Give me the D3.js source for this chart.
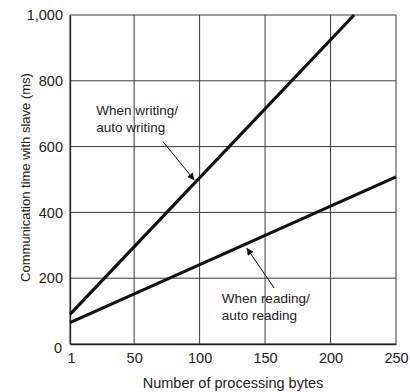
<!DOCTYPE html>
<html>
<head>
<meta charset="utf-8">
<script src="https://cdnjs.cloudflare.com/ajax/libs/d3/7.8.5/d3.min.js"></script>
<style>
  body { margin: 0; background: #fff; }
  text { font-family: "Liberation Sans", Arial, sans-serif; fill: #222; }
</style>
</head>
<body>
<div id="chart"></div>
<script>
// data
var xTicks = [1, 50, 100, 150, 200, 250];
var yTicks = [0, 200, 400, 600, 800, 1000];
var writingLine = [[1, 90], [218, 1000]];
var readingLine = [[1, 65], [250, 508]];

var margin = {top: 15, right: 14, bottom: 48, left: 70},
	width = 410 - margin.left - margin.right,
	height = 392 - margin.top - margin.bottom;

var x = d3.scaleLinear().domain([1, 250]).range([0, width]);
var y = d3.scaleLinear().domain([0, 1000]).range([height, 0]);

var svg = d3.select("#chart").append("svg")
	.attr("width", 410)
	.attr("height", 392)
  .append("g")
	.attr("transform", "translate(" + margin.left + "," + margin.top + ")");

svg.append("defs").append("marker")
	.attr("id", "arr")
	.attr("viewBox", "0 0 10 10")
	.attr("refX", 10).attr("refY", 5)
	.attr("markerWidth", 9).attr("markerHeight", 7)
	.attr("markerUnits", "userSpaceOnUse")
	.attr("orient", "auto")
  .append("path")
	.attr("d", "M0,0 L10,5 L0,10 z")
	.attr("fill", "#111");

//grid
svg.selectAll(".vgrid").data(xTicks).enter().append("line")
	.attr("x1", d => x(d)).attr("x2", d => x(d))
	.attr("y1", 0).attr("y2", height)
	.attr("stroke", "#3a3a3a").attr("stroke-width", 1);
svg.selectAll(".hgrid").data(yTicks).enter().append("line")
	.attr("x1", 0).attr("x2", width)
	.attr("y1", d => y(d)).attr("y2", d => y(d))
	.attr("stroke", "#3a3a3a").attr("stroke-width", 1);

var xAxis = d3.axisBottom(x).tickValues(xTicks).tickSize(0).tickPadding(9);
var yAxis = d3.axisLeft(y).tickValues(yTicks).tickSize(0).tickPadding(7).tickFormat(d3.format(","));

var gx = svg.append("g").attr("transform", "translate(0," + height + ")").call(xAxis);
var gy = svg.append("g").call(yAxis);
gx.select(".domain").attr("stroke", "#222").attr("stroke-width", 1.3);
gy.select(".domain").attr("stroke", "#222").attr("stroke-width", 1.3);
gx.selectAll("text").style("font-size", "14.5px").style("font-family", "Liberation Sans, Arial, sans-serif").attr("fill", "#222");
gy.selectAll("text").style("font-size", "14.5px").style("font-family", "Liberation Sans, Arial, sans-serif").attr("fill", "#222");
gx.selectAll(".tick").filter(d => d == 1).select("text").attr("dx", 1);
gy.selectAll(".tick").filter(d => d == 0).select("text").attr("x", -8).attr("dy", "0.6em");

var line = d3.line().x(d => x(d[0])).y(d => y(d[1]));
[writingLine, readingLine].forEach(function(l){
	svg.append("path").datum(l)
		.attr("d", line)
		.attr("fill", "none")
		.attr("stroke", "#111")
		.attr("stroke-width", 3.2);
});

// annotations
function note(lines, tx, ty, ax1, ay1, ax2, ay2){
	svg.append("line")
		.attr("x1", x(ax1)).attr("y1", y(ay1))
		.attr("x2", x(ax2)).attr("y2", y(ay2))
		.attr("stroke", "#111").attr("stroke-width", 1)
		.attr("marker-end", "url(#arr)");
	var t = svg.append("text").attr("x", x(tx)).attr("y", y(ty)).style("font-size", "13.5px");
	lines.forEach(function(s, i){
		t.append("tspan").attr("x", x(tx)).attr("dy", i == 0 ? 0 : "1.25em").text(s);
	});
}
note(["When writing/", "auto writing"], 21, 697, 72, 615, 96, 498);
note(["When reading/", "auto reading"], 117, 125, 157, 170, 136, 292);

svg.append("text")
	.attr("x", width / 2).attr("y", height + 44)
	.attr("text-anchor", "middle")
	.style("font-size", "14.5px")
	.text("Number of processing bytes");

svg.append("text")
	.attr("transform", "translate(" + (-40) + "," + (height / 2 - 2) + ") rotate(-90)")
	.attr("text-anchor", "middle")
	.style("font-size", "13px")
	.text("Communication time with slave (ms)");
</script>
</body>
</html>
